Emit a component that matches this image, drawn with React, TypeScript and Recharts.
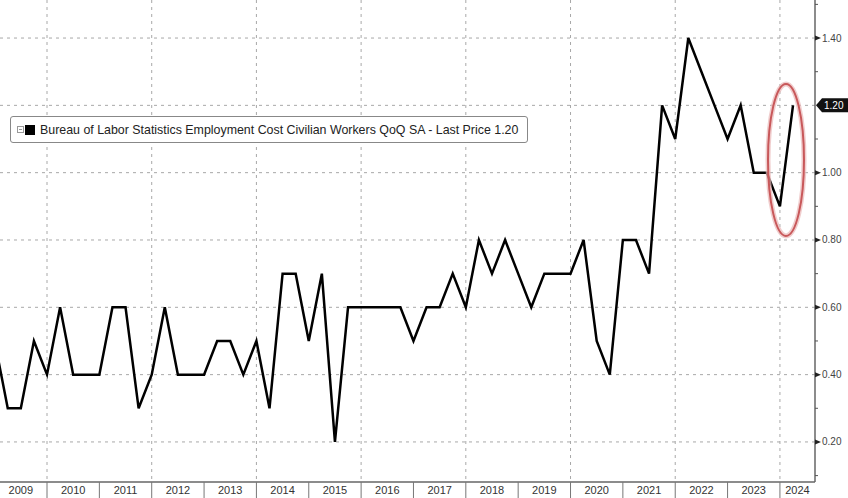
import {
  CartesianGrid,
  Line,
  LineChart,
  ReferenceDot,
  XAxis,
  YAxis,
} from "recharts";

// quarterly ECI civilian workers, QoQ % change (SA)
const quarters = [
  "2008 Q4",
  "2009 Q1", "2009 Q2", "2009 Q3", "2009 Q4",
  "2010 Q1", "2010 Q2", "2010 Q3", "2010 Q4",
  "2011 Q1", "2011 Q2", "2011 Q3", "2011 Q4",
  "2012 Q1", "2012 Q2", "2012 Q3", "2012 Q4",
  "2013 Q1", "2013 Q2", "2013 Q3", "2013 Q4",
  "2014 Q1", "2014 Q2", "2014 Q3", "2014 Q4",
  "2015 Q1", "2015 Q2", "2015 Q3", "2015 Q4",
  "2016 Q1", "2016 Q2", "2016 Q3", "2016 Q4",
  "2017 Q1", "2017 Q2", "2017 Q3", "2017 Q4",
  "2018 Q1", "2018 Q2", "2018 Q3", "2018 Q4",
  "2019 Q1", "2019 Q2", "2019 Q3", "2019 Q4",
  "2020 Q1", "2020 Q2", "2020 Q3", "2020 Q4",
  "2021 Q1", "2021 Q2", "2021 Q3", "2021 Q4",
  "2022 Q1", "2022 Q2", "2022 Q3", "2022 Q4",
  "2023 Q1", "2023 Q2", "2023 Q3", "2023 Q4",
  "2024 Q1",
];

const eci = [
  0.5,
  0.3, 0.3, 0.5, 0.4,
  0.6, 0.4, 0.4, 0.4,
  0.6, 0.6, 0.3, 0.4,
  0.6, 0.4, 0.4, 0.4,
  0.5, 0.5, 0.4, 0.5,
  0.3, 0.7, 0.7, 0.5,
  0.7, 0.2, 0.6, 0.6,
  0.6, 0.6, 0.6, 0.5,
  0.6, 0.6, 0.7, 0.6,
  0.8, 0.7, 0.8, 0.7,
  0.6, 0.7, 0.7, 0.7,
  0.8, 0.5, 0.4, 0.8,
  0.8, 0.7, 1.2, 1.1,
  1.4, 1.3, 1.2, 1.1,
  1.2, 1.0, 1.0, 0.9,
  1.2,
];

const years = [2009, 2010, 2011, 2012, 2013, 2014, 2015, 2016, 2017, 2018, 2019, 2020, 2021, 2022, 2023, 2024];
const gridYears = [2010, 2012, 2014, 2016, 2018, 2020, 2022, 2024];
const yTicks = [0.1, 0.2, 0.3, 0.4, 0.5, 0.6, 0.7, 0.8, 0.9, 1.0, 1.1, 1.2, 1.3, 1.4, 1.5];
const yGrid = [0.2, 0.4, 0.6, 0.8, 1.0, 1.2, 1.4];

const seriesName = "Bureau of Labor Statistics Employment Cost Civilian Workers QoQ SA";
const lastPrice = eci[eci.length - 1];

const W = 848;
const H = 498;
const AXIS_W = 33;
const PLOT_RIGHT = W - AXIS_W;
const X_MIN = 2009.102;
const X_MAX = 2024.67;
const pxPerYear = PLOT_RIGHT / (X_MAX - X_MIN);

// plot each quarter at its quarter end
const data = quarters.map((q, i) => {
  const [y, qq] = q.split(" Q");
  return { t: Number(y) + Number(qq) * 0.25, value: eci[i] };
});

const font = "'Liberation Sans', Arial, sans-serif";

function YearTick({ x, y, payload }: any) {
  const half = pxPerYear / 2;
  const left = x - half;
  const right = Math.min(x + half, PLOT_RIGHT);
  const left0 = Math.max(left, 0);
  const cx = left0 > 0 && right < x + half ? (left0 + right) / 2 : x;
  return (
    <g>
      <line x1={left} x2={left} y1={y} y2={y + 16} stroke="#777" strokeWidth={1} />
      <text x={cx} y={y + 12} textAnchor="middle" fontSize={11} fill="#333" fontFamily="'Liberation Sans Narrow', 'Liberation Sans', sans-serif">
        {Math.floor(payload.value)}
      </text>
    </g>
  );
}

function PriceTick({ x, y, payload }: any) {
  const v = payload.value;
  const major = Math.round(v * 10) % 2 === 0;
  if (Math.abs(v - lastPrice) < 1e-6) {
    return (
      <g>
        <polygon
          points={`${x + 1},${y} ${x + 7},${y - 7} ${x + 33},${y - 7} ${x + 33},${y + 7} ${x + 7},${y + 7}`}
          fill="#111"
        />
        <text x={x + 9} y={y + 3.5} fontSize={10} fill="#fff" fontFamily={font}>
          {v.toFixed(2)}
        </text>
      </g>
    );
  }
  if (!major) {
    return <line x1={x} x2={x + 3} y1={y} y2={y} stroke="#555" strokeWidth={1} />;
  }
  return (
    <g>
      <polygon points={`${x},${y - 2.5} ${x + 6},${y} ${x},${y + 2.5}`} fill="#222" />
      <text x={x + 7} y={y + 3.5} fontSize={10} fill="#444" fontFamily={font}>
        {v.toFixed(2)}
      </text>
    </g>
  );
}

function LegendBox() {
  return (
    <div
      style={{
        position: "absolute",
        left: 10,
        top: 116,
        display: "flex",
        alignItems: "center",
        background: "#fff",
        border: "1.5px solid #888",
        borderRadius: 3,
        padding: "0 9px 0 6px",
        height: 25,
        fontFamily: font,
        fontSize: 12.4,
        color: "#222",
        whiteSpace: "nowrap",
      }}
    >
      <svg width={20} height={12} style={{ marginRight: 3 }}>
        <rect x={0.5} y={2.5} width={6} height={6} fill="#fff" stroke="#999" />
        <line x1={2} x2={5} y1={5.5} y2={5.5} stroke="#999" />
        <rect x={8} y={1} width={10} height={10} fill="#000" />
      </svg>
      <span>
        {seriesName} - Last Price {lastPrice.toFixed(2)}
      </span>
    </div>
  );
}

function Ellipse({ cx, cy }: any) {
  return (
    <g>
      <ellipse cx={cx} cy={cy} rx={18} ry={76} fill="none" stroke="#eab8b8" strokeWidth={5} opacity={0.7} />
      <ellipse cx={cx} cy={cy} rx={18} ry={76} fill="none" stroke="#c8585a" strokeWidth={2} />
    </g>
  );
}

export default function App() {
  return (
    <div style={{ position: "absolute", left: 0, top: 0, width: W, height: H, background: "#fff" }}>
      <LineChart width={W} height={H} data={data} margin={{ top: 0, right: 0, bottom: 0, left: 0 }}>
        <CartesianGrid
          stroke="#a8a8a8"
          strokeDasharray="3 4"
          horizontalValues={yGrid}
          verticalValues={gridYears}
        />
        <XAxis
          dataKey="t"
          type="number"
          domain={[X_MIN, X_MAX]}
          allowDataOverflow
          ticks={years.map((y) => y + 0.5)}
          interval={0}
          height={16}
          tickSize={0}
          tickMargin={0}
          tickLine={false}
          axisLine={{ stroke: "#666", strokeWidth: 1.5 }}
          tick={YearTick}
        />
        <YAxis
          orientation="right"
          type="number"
          domain={[0.081, 1.513]}
          allowDataOverflow
          ticks={yTicks}
          interval={0}
          width={AXIS_W}
          tickSize={0}
          tickMargin={0}
          tickLine={false}
          axisLine={{ stroke: "#666", strokeWidth: 1.5 }}
          tick={PriceTick}
        />
        <Line
          type="linear"
          dataKey="value"
          name={seriesName}
          stroke="#000"
          strokeWidth={2.5}
          dot={false}
          isAnimationActive={false}
        />
        <ReferenceDot x={2024.116} y={1.038} shape={Ellipse} ifOverflow="visible" />
      </LineChart>
      <LegendBox />
    </div>
  );
}
